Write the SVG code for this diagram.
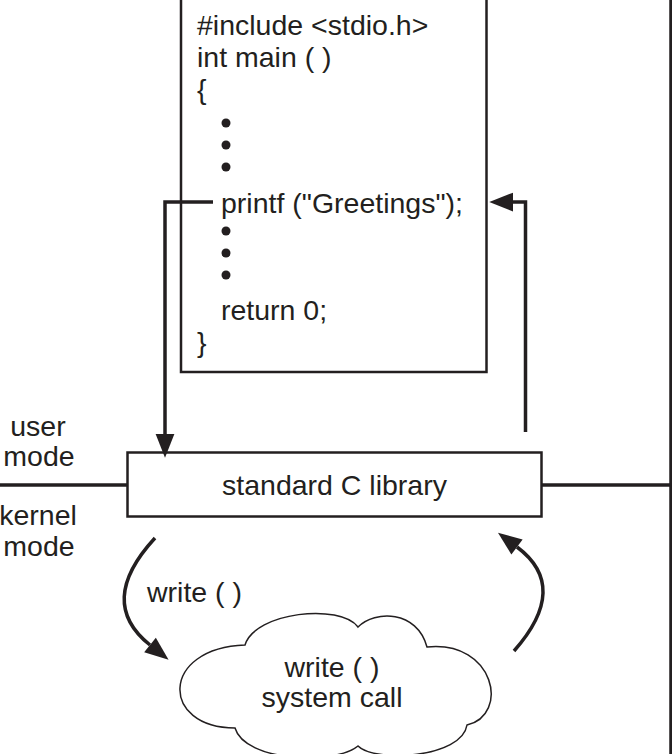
<svg xmlns="http://www.w3.org/2000/svg" width="672" height="754" viewBox="0 0 672 754">
<style>
text{font-family:"Liberation Sans",Arial,sans-serif;font-size:28.5px;fill:#231f20}
.box{fill:#fff;stroke:#231f20;stroke-width:2.5}
.ln{fill:none;stroke:#231f20;stroke-width:3.5}
.c{text-anchor:middle}
</style>
<defs>
<marker id="ah" markerUnits="userSpaceOnUse" markerWidth="30" markerHeight="30" refX="0" refY="0" orient="auto" viewBox="-2 -10 24 20" overflow="visible">
<path d="M0,-7.5 L19,0 L0,7.5 Z" fill="#231f20"/>
</marker>
</defs>
<rect width="672" height="754" fill="#fff"/>
<g id="boundary">
<line x1="0" y1="485" x2="127" y2="485" class="ln" stroke-width="3"/>
<line x1="542" y1="485" x2="671" y2="485" class="ln" stroke-width="3"/>
<line x1="671" y1="0" x2="671" y2="754" class="ln" stroke-width="3"/>
</g>
<g id="program">
<rect x="181" y="-10" width="305.5" height="382" class="box"/>
<text x="197" y="35">#include &lt;stdio.h&gt;</text>
<text x="197" y="67">int main ( )</text>
<text x="197" y="99">{</text>
<circle cx="226" cy="123" r="4.5" fill="#231f20"/>
<circle cx="226" cy="145" r="4.5" fill="#231f20"/>
<circle cx="226" cy="167" r="4.5" fill="#231f20"/>
<text x="221" y="213">printf ("Greetings");</text>
<circle cx="226" cy="231" r="4.5" fill="#231f20"/>
<circle cx="226" cy="253" r="4.5" fill="#231f20"/>
<circle cx="226" cy="275" r="4.5" fill="#231f20"/>
<text x="221" y="320">return 0;</text>
<text x="197" y="352">}</text>
</g>
<g id="mode-labels">
<text x="38" y="436" class="c">user</text>
<text x="39" y="466" class="c">mode</text>
<text x="38" y="525" class="c">kernel</text>
<text x="39" y="556" class="c">mode</text>
</g>
<g id="library">
<rect x="127.5" y="452.5" width="414" height="64" class="box"/>
<text x="334.5" y="495" class="c">standard C library</text>
</g>
<g id="syscall">
<path d="M245,645 C255,612 340,603 358,627 C375,610 417,610 427,647 C495,640 510,715 467,725 C462,758 375,763 358,746 C335,765 245,762 235,728 C160,728 160,648 245,645 Z" fill="#fff" stroke="#231f20" stroke-width="1.5"/>
<text x="332" y="677" class="c">write ( )</text>
<text x="332" y="707" class="c">system call</text>
</g>
<g id="connectors">
<path d="M213,202 H165 V434" class="ln" marker-end="url(#ah)"/>
<path d="M525.5,432 V202 H513" class="ln" marker-end="url(#ah)"/>
<path d="M155,538 Q96,602 150,645" class="ln" stroke-width="3" marker-end="url(#ah)"/>
<path d="M514,651 Q570.5,587 517,547" class="ln" stroke-width="3" marker-end="url(#ah)"/>
<text x="147" y="602">write ( )</text>
</g>
</svg>
